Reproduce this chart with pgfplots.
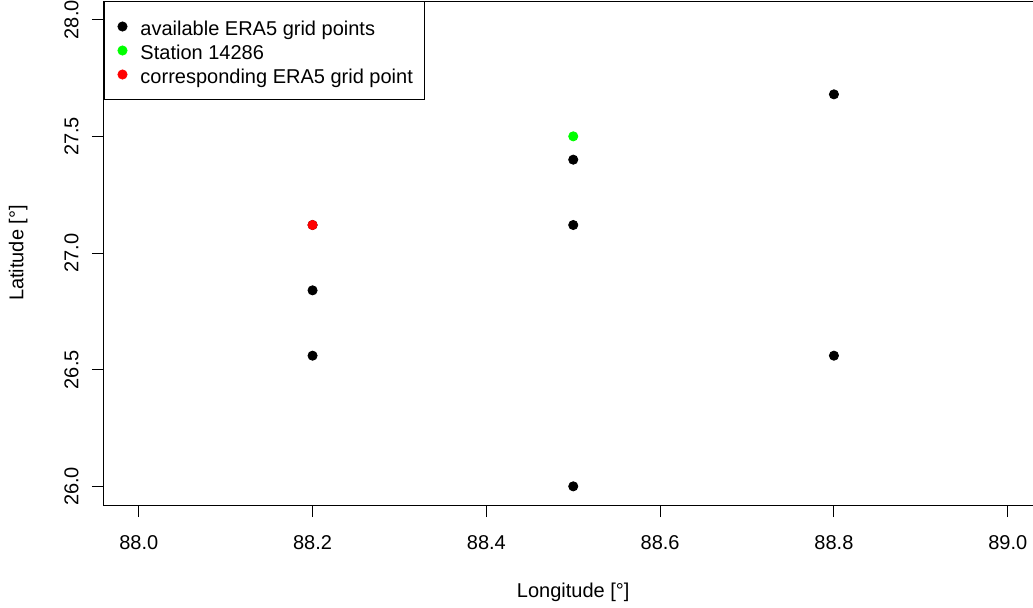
\documentclass[border=0pt]{standalone}
\usepackage{fontspec}
\setmainfont{Liberation Sans}
\usepackage{pgfplots}
\pgfplotsset{compat=1.18}
\definecolor{rgreen}{RGB}{0,255,0}
\definecolor{rred}{RGB}{255,0,0}

\begin{document}
\begin{tikzpicture}
\begin{axis}[
  scale only axis,
  width=469.25pt, height=252pt,
  xmin=87.96, xmax=89.04, ymin=25.92, ymax=28.08,
  xtick={88.0,88.2,88.4,88.6,88.8,89.0},
  ytick={26.0,26.5,27.0,27.5,28.0},
  xticklabels={88.0,88.2,88.4,88.6,88.8,89.0},
  yticklabels={26.0,26.5,27.0,27.5,28.0},
  tick pos=left, tick align=outside,
  major tick length=6pt,
  every tick/.style={black,line width=0.5pt},
  axis line style={line width=0.5pt},
  /pgf/number format/assume math mode=true,
  xticklabel style={anchor=base, inner sep=0pt, yshift=-16.3pt},
  yticklabel style={rotate=90, anchor=base, inner sep=0pt, yshift=6.8pt},
  xlabel={Longitude [°]}, ylabel={Latitude [°]},
  xlabel style={at={(axis description cs:0.5,-0.1835)}, anchor=base, inner sep=0pt},
  ylabel style={at={(axis description cs:-0.0858,0.5)}, anchor=base, inner sep=0pt},
  legend cell align=left,
  legend image code/.code={
    \path[draw=none,fill=none] (-5pt,-2.5pt) rectangle (5pt,2.5pt);
    \draw[#1] plot coordinates {(0pt,0pt)};
  },
  legend style={at={(rel axis cs:0,1)}, anchor=north west, draw=black,
    line width=0.5pt, inner xsep=4pt, inner ysep=7pt, row sep=1pt, column sep=4pt,
    nodes={inner sep=0pt, text height=9.8pt, text depth=1.2pt}},
]
\addplot[only marks, mark=*, mark size=2.3pt, mark options={fill=black, draw=black, line width=0.4pt}]
  coordinates {(88.2,26.56) (88.2,26.84) (88.2,27.12) (88.5,26.0) (88.5,27.12) (88.5,27.40) (88.8,26.56) (88.8,27.68)};
\addlegendentry{available ERA5 grid points}
\addplot[only marks, mark=*, mark size=2.3pt, mark options={fill=rgreen, draw=rgreen, line width=0.4pt}]
  coordinates {(88.5,27.5)};
\addlegendentry{Station 14286}
\addplot[only marks, mark=*, mark size=2.3pt, mark options={fill=rred, draw=rred, line width=0.4pt}]
  coordinates {(88.2,27.12)};
\addlegendentry{corresponding ERA5 grid point\kern2pt}
\end{axis}
\pgfresetboundingbox
\path (-52pt,-51pt) rectangle (464.5pt,252.5pt);
\end{tikzpicture}
\end{document}
